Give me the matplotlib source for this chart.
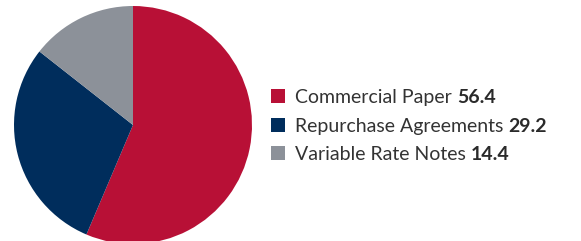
import matplotlib.pyplot as plt
from matplotlib.patches import Rectangle

labels = ['Commercial Paper', 'Repurchase Agreements', 'Variable Rate Notes']
values = [56.4, 29.2, 14.4]
colors = ['#B81036', '#002D5C', '#8C9199']

plt.rcParams['font.family'] = ['Lato', 'DejaVu Sans']

W, H = 581, 241
fig = plt.figure(figsize=(W / 100, H / 100), dpi=100)

# pie
ax = fig.add_axes([14 / W, -3 / H, 238 / W, 238 / H])
ax.pie(values, colors=colors, startangle=90, counterclock=False,
       radius=1, wedgeprops=dict(linewidth=0))
ax.set_xlim(-1, 1)
ax.set_ylim(-1, 1)
ax.set_aspect('equal')
ax.axis('off')

# legend drawn by hand so the numbers can be bold
fig.canvas.draw()
renderer = fig.canvas.get_renderer()
row_y = [96, 125, 153]
for lab, val, col, y in zip(labels, values, colors, row_y):
    fig.add_artist(Rectangle((271 / W, (H - y - 7) / H), 14 / W, 14 / H,
                             transform=fig.transFigure, color=col, lw=0))
    t = fig.text(295 / W, (H - y) / H, lab + ' ', fontsize=14,
                 color='#333333', va='center_baseline', ha='left')
    bb = t.get_window_extent(renderer)
    fig.text(bb.x1 / W, (H - y) / H, f'{val:.1f}', fontsize=14,
             fontweight='bold', color='#2a2a2a', va='center_baseline', ha='left')

fig.savefig('out.png', dpi=100)
